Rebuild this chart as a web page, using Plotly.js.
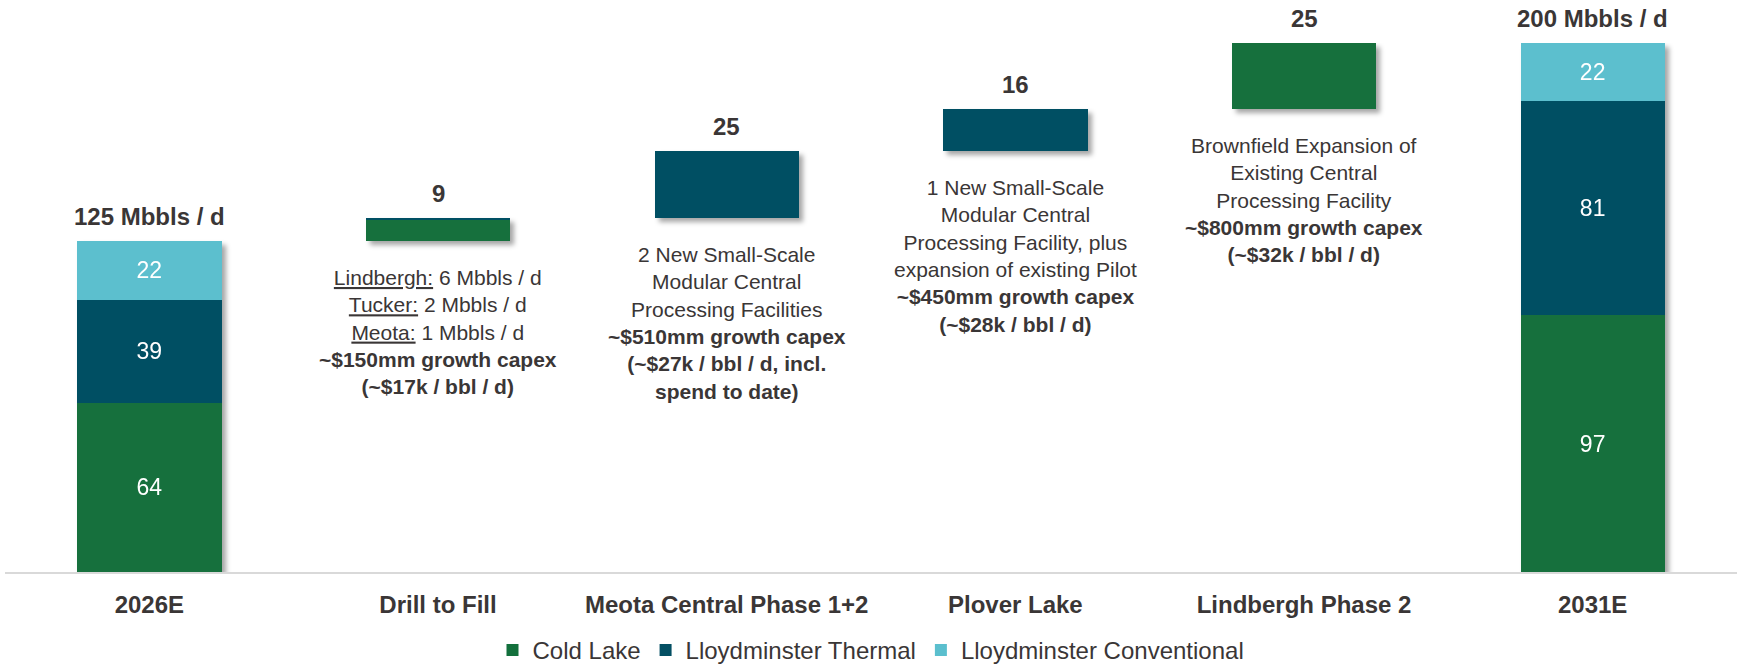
<!DOCTYPE html>
<html>
<head>
<meta charset="utf-8">
<script src="https://cdn.plot.ly/plotly-3.0.1.min.js"></script>
<style>
  html, body { margin: 0; padding: 0; background: #fff; }
  #chart { width: 1737px; height: 666px; }
  #chart .barlayer { filter: url(#barShadow); }
</style>
</head>
<body>
<svg width="0" height="0" style="position:absolute">
  <defs>
    <filter id="barShadow" x="-10%" y="-10%" width="130%" height="130%">
      <feDropShadow dx="4" dy="4" stdDeviation="2.5" flood-color="#000" flood-opacity="0.35"/>
    </filter>
  </defs>
</svg>
<div id="chart"></div>
<script>
// ---- data ----
const categories = ['2026E', 'Drill to Fill', 'Meota Central Phase 1+2', 'Plover Lake', 'Lindbergh Phase 2', '2031E'];
const measure = ['total', 'relative', 'relative', 'relative', 'relative', 'total'];
const coldLake = [64, 8, 0, 0, 25, 97];
const lloydThermal = [39, 1, 25, 16, 0, 81];
const lloydConventional = [22, 0, 0, 0, 0, 22];
const unitLabel = 'Mbbls / d';
const descriptions = [
  '',
  '<u>Lindbergh:</u> 6 Mbbls / d<br><u>Tucker:</u> 2 Mbbls / d<br><u>Meota:</u> 1 Mbbls / d<br><b>~$150mm growth capex</b><br><b>(~$17k / bbl / d)</b>',
  '2 New Small-Scale<br>Modular Central<br>Processing Facilities<br><b>~$510mm growth capex</b><br><b>(~$27k / bbl / d, incl.</b><br><b>spend to date)</b>',
  '1 New Small-Scale<br>Modular Central<br>Processing Facility, plus<br>expansion of existing Pilot<br><b>~$450mm growth capex</b><br><b>(~$28k / bbl / d)</b>',
  'Brownfield Expansion of<br>Existing Central<br>Processing Facility<br><b>~$800mm growth capex</b><br><b>(~$32k / bbl / d)</b>',
  ''
];

// ---- styles ----
const FONT = 'Liberation Sans, Arial, sans-serif';
const TEXT = '#3a3636';
const colors = { cold: '#13703c', thermal: '#044f63', conv: '#5bbfce' };

// ---- derived ----
const sums = categories.map((_, i) => coldLake[i] + lloydThermal[i] + lloydConventional[i]);
const bases = [];
let running = 0;
categories.forEach((_, i) => {
  if (measure[i] === 'total') { bases.push(0); running = sums[i]; }
  else { bases.push(running); running += sums[i]; }
});
const inText = arr => arr.map((v, i) => (measure[i] === 'total' && v > 0) ? String(v) : '');

const common = {
  type: 'bar', x: categories, hoverinfo: 'skip',
  textposition: 'inside', insidetextanchor: 'middle', constraintext: 'none',
  textfont: { family: FONT, size: 23, color: '#ffffff' }
};

const traces = [
  { type: 'bar', x: categories, y: bases, marker: { color: 'rgba(0,0,0,0)' }, showlegend: false, hoverinfo: 'skip' },
  Object.assign({}, common, { name: 'Cold Lake', y: coldLake, text: inText(coldLake), marker: { color: colors.cold } }),
  Object.assign({}, common, { name: 'Lloydminster Thermal', y: lloydThermal, text: inText(lloydThermal), marker: { color: colors.thermal } }),
  Object.assign({}, common, { name: 'Lloydminster Conventional', y: lloydConventional, text: inText(lloydConventional), marker: { color: colors.conv } })
];

const annotations = [];
categories.forEach((c, i) => {
  const top = bases[i] + sums[i];
  annotations.push({
    x: c, y: top, xref: 'x', yref: 'y', yanchor: 'bottom', yshift: 9, showarrow: false,
    text: '<b>' + (measure[i] === 'total' ? sums[i] + ' ' + unitLabel : String(sums[i])) + '</b>',
    font: { family: FONT, size: 24, color: TEXT }
  });
  if (descriptions[i]) {
    annotations.push({
      x: c, y: bases[i], xref: 'x', yref: 'y', yanchor: 'top', yshift: -23, showarrow: false,
      align: 'center', text: descriptions[i],
      font: { family: FONT, size: 21, color: TEXT }
    });
  }
});

const layout = {
  width: 1737, height: 666,
  margin: { l: 5, r: 0, t: 43, b: 94, autoexpand: false },
  paper_bgcolor: '#ffffff', plot_bgcolor: '#ffffff',
  barmode: 'stack', bargap: 0.5,
  hovermode: false,
  xaxis: {
    type: 'category', showline: true, linecolor: '#d9d9d9', linewidth: 2,
    ticks: '', showgrid: false, zeroline: false, ticklabelstandoff: 10,
    tickfont: { family: FONT, size: 24, color: TEXT, weight: 'bold' }
  },
  yaxis: { visible: false, range: [0, 200], showgrid: false, zeroline: false, fixedrange: true },
  showlegend: true,
  legend: {
    orientation: 'h', x: 0.5, xanchor: 'center', y: -0.148, yanchor: 'middle',
    font: { family: FONT, size: 24, color: TEXT }, traceorder: 'normal',
    itemwidth: 30
  },
  annotations: annotations
};

Plotly.newPlot('chart', traces, layout, { displayModeBar: false, staticPlot: true });
</script>
</body>
</html>
